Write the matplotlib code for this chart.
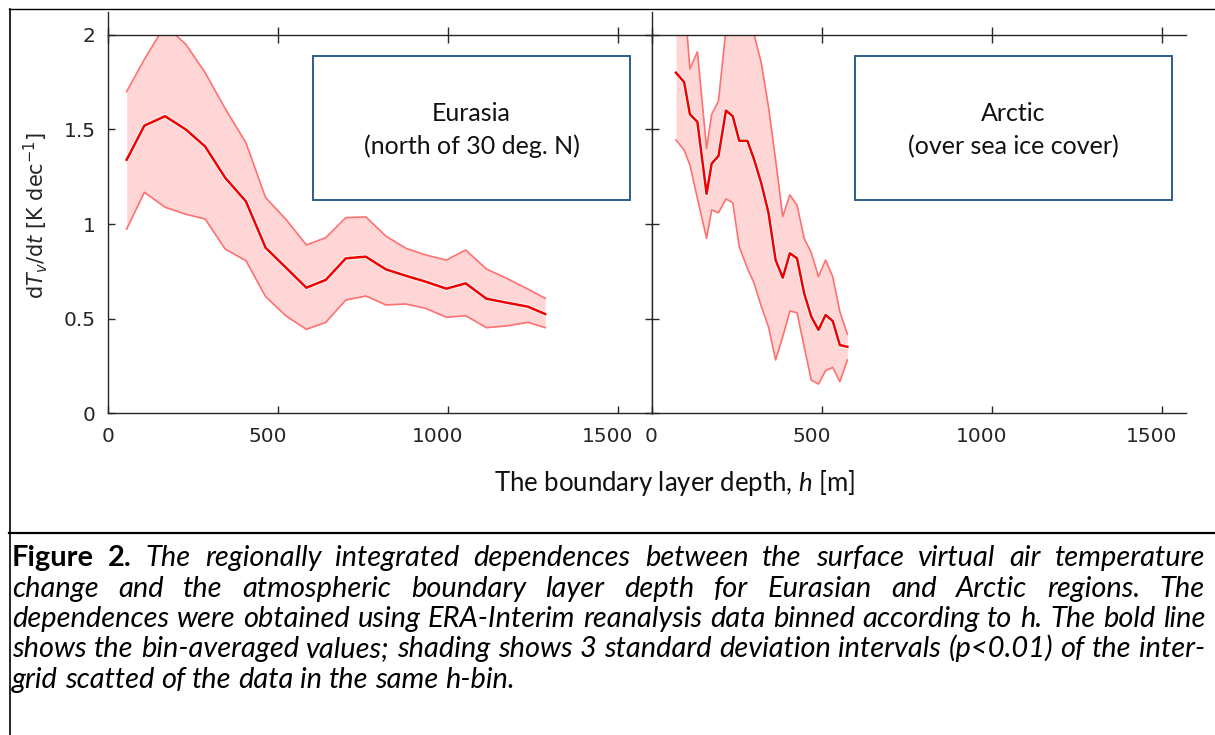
import matplotlib
matplotlib.use('Agg')
import matplotlib.pyplot as plt
import matplotlib.patheffects as pe
import matplotlib.transforms as mtransforms
from matplotlib.patches import Rectangle

# ---- data ----
# Eurasia (north of 30 deg. N)
eur_h = [55, 107, 168, 229, 286, 345, 406, 464, 524, 584, 641, 700, 759, 818,
         877, 935, 996, 1053, 1114, 1173, 1236, 1287]
eur_mean = [1.34, 1.52, 1.57, 1.50, 1.41, 1.245, 1.12, 0.875, 0.77, 0.664, 0.705,
            0.819, 0.828, 0.761, 0.727, 0.696, 0.659, 0.687, 0.606, 0.585, 0.564, 0.525]
eur_upper = [1.70, 1.87, 2.05, 1.95, 1.80, 1.61, 1.43, 1.14, 1.025, 0.89, 0.928,
             1.034, 1.038, 0.937, 0.872, 0.837, 0.81, 0.863, 0.763, 0.714, 0.657, 0.608]
eur_lower = [0.974, 1.168, 1.089, 1.052, 1.027, 0.868, 0.807, 0.617, 0.515, 0.444, 0.481,
             0.599, 0.62, 0.573, 0.578, 0.555, 0.508, 0.516, 0.453, 0.462, 0.481, 0.453]

# Arctic (over sea ice cover)
arc_h = [72, 96, 113, 135, 162, 177, 197, 219, 239, 258, 282, 302, 323, 344, 365,
         386, 407, 428, 449, 470, 491, 512, 533, 554, 576]
arc_mean = [1.80, 1.75, 1.58, 1.54, 1.16, 1.32, 1.36, 1.60, 1.57, 1.44, 1.44, 1.34,
            1.215, 1.06, 0.81, 0.717, 0.846, 0.819, 0.634, 0.511, 0.441, 0.52, 0.488,
            0.361, 0.352]
arc_upper = [2.3, 2.2, 1.82, 1.91, 1.40, 1.58, 1.65, 2.03, 2.3, 2.35, 2.2, 2.0, 1.85,
             1.62, 1.34, 1.04, 1.154, 1.10, 0.925, 0.849, 0.722, 0.81, 0.722, 0.537, 0.419]
arc_lower = [1.444, 1.391, 1.312, 1.136, 0.925, 1.075, 1.06, 1.133, 1.113, 0.881, 0.767,
             0.687, 0.564, 0.458, 0.282, 0.405, 0.541, 0.532, 0.352, 0.176, 0.155, 0.226,
             0.243, 0.168, 0.282]

xticks = [0, 500, 1000, 1500]
yticks = [0, 0.5, 1, 1.5, 2]
ytick_labels = ['0', '0.5', '1', '1.5', '2']

box_texts = [('Eurasia', '(north of 30 deg. N)'), ('Arctic', '(over sea ice cover)')]

caption_bold = ['Figure', '2.']
caption = [
    "The regionally integrated dependences between the surface virtual air temperature",
    "change and the atmospheric boundary layer depth for Eurasian and Arctic regions. The",
    "dependences were obtained using ERA-Interim reanalysis data binned according to h. The bold line",
    "shows the bin-averaged values; shading shows 3 standard deviation intervals (p<0.01) of the inter-",
    "grid scatted of the data in the same h-bin.",
]

# ---- style ----
plt.rcParams['font.family'] = 'DejaVu Sans'
plt.rcParams['mathtext.fontset'] = 'custom'
plt.rcParams['mathtext.rm'] = 'Lato'
plt.rcParams['mathtext.it'] = 'Lato:italic'

W, H = 1215, 735
AXC = '#262626'
fig = plt.figure(figsize=(W / 100, H / 100), dpi=100)

ax1 = fig.add_axes([108 / W, 1 - 413.4 / H, 543.5 / W, 378.6 / H])
ax2 = fig.add_axes([651.5 / W, 1 - 413.4 / H, 534.5 / W, 378.6 / H])


def draw_band(ax, h, lo, mean, up):
    ax.fill_between(h, lo, up, color='#ffd6d6', lw=0)
    ax.plot(h, up, color='#ff7070', lw=1.2)
    ax.plot(h, lo, color='#ff7070', lw=1.2)
    ax.plot(h, mean, color='#f00000', lw=1.8,
            path_effects=[pe.withStroke(linewidth=3.0, foreground='white')])


draw_band(ax1, eur_h, eur_lower, eur_mean, eur_upper)
draw_band(ax2, arc_h, arc_lower, arc_mean, arc_upper)

shift = mtransforms.ScaledTranslation(-0.1, 0, fig.dpi_scale_trans)

for ax, xmax in ((ax1, 1600), (ax2, 1572)):
    ax.set_xlim(0, xmax)
    ax.set_ylim(0, 2)
    ax.set_xticks(xticks)
    ax.set_xticklabels([str(t) for t in xticks])
    ax.set_yticks(yticks)
    for s in ax.spines.values():
        s.set_color(AXC)
        s.set_linewidth(1.0)
    ax.tick_params(axis='x', direction='in', top=True, length=5, width=1.0,
                   color=AXC, labelsize=14.5, labelcolor=AXC, pad=10)
    ax.tick_params(axis='y', direction='in', length=5, width=1.0, color=AXC,
                   labelsize=14.5, labelcolor=AXC, pad=9)
    # top ticks cross the line
    for t in ax.xaxis.get_major_ticks():
        t.tick2line.set_marker('|')
        t.tick2line.set_markersize(11)
    # multi-digit labels sit a little left of their ticks in the original
    for lab in ax.get_xticklabels():
        if lab.get_text() != '0':
            lab.set_transform(lab.get_transform() + shift)

ax1.set_yticklabels(ytick_labels)
ax1.tick_params(axis='y', right=True)
ax2.tick_params(axis='y', labelleft=False, right=False)
ax2.spines['right'].set_visible(False)

# ---- overlay in pixel coordinates ----
ov = fig.add_axes([0, 0, 1, 1])
ov.set_xlim(0, W)
ov.set_ylim(H, 0)
ov.axis('off')

# page frame
ov.plot([9.5, 9.5], [9, H], color='black', lw=1.2, clip_on=False)
ov.plot([9, W], [9, 9], color='black', lw=1.0, clip_on=False)
ov.plot([9, W], [533, 533], color='black', lw=1.6, clip_on=False)
# y-axis lines run a little above the top
ov.plot([108, 108], [12, 35], color=AXC, lw=1.0)
ov.plot([651.5, 651.5], [12, 35], color=AXC, lw=1.0)

# region boxes
for (x0, (t1, t2)) in zip((312.7, 854.5), box_texts):
    ov.add_patch(Rectangle((x0, 56), 317.5, 144, fill=False, ec='#2e5d8c', lw=1.4))
    cx = x0 + 317.5 / 2
    ov.text(cx, 121, t1, family='Lato', fontsize=18, ha='center', va='baseline', color='#111111')
    ov.text(cx, 154, t2, family='Lato', fontsize=18, ha='center', va='baseline', color='#111111')

# axis labels
ov.text(36, 215, r'd$T_v$/d$t$ [K dec$^{-1}$]', rotation=90, ha='center', va='center',
        fontsize=15, color=AXC, math_fontfamily='dejavusans')
ov.text(674, 491, r'The boundary layer depth, $h$ [m]', family='Lato', fontsize=18.5,
        ha='center', va='baseline', color='#111111')

# caption, justified between the page margins
renderer = fig.canvas.get_renderer()
left, right = 12, 1205
baselines = [566, 597, 627, 657, 688]
fs = 16.0


def make_words(i, line):
    words = [(w, 'normal', 'italic') for w in line.split()]
    if i == 0:
        words = [(w, 'bold', 'normal') for w in caption_bold] + words
    return words


def measure(words, size):
    arts = [ov.text(0, 0, w, family='Lato', fontsize=size, fontweight=fw, fontstyle=st,
                    va='baseline', ha='left', color='black') for w, fw, st in words]
    widths = [a.get_window_extent(renderer).width for a in arts]
    return arts, widths


def space_width(size):
    a = ov.text(0, 0, 'a a', family='Lato', fontsize=size, fontstyle='italic')
    b = ov.text(0, 0, 'aa', family='Lato', fontsize=size, fontstyle='italic')
    w = a.get_window_extent(renderer).width - b.get_window_extent(renderer).width
    a.remove()
    b.remove()
    return w


# size the font so the tightest line just fills the measure
sp = space_width(fs)
worst = 0
for i, line in enumerate(caption[:-1]):
    arts, widths = measure(make_words(i, line), fs)
    need = sum(widths) + sp * (len(widths) - 1)
    worst = max(worst, need / (right - left))
    for a in arts:
        a.remove()
fs = fs / worst * 0.995
sp = space_width(fs)

for i, line in enumerate(caption):
    words = make_words(i, line)
    arts, widths = measure(words, fs)
    if i < len(caption) - 1:
        gap = (right - left - sum(widths)) / (len(widths) - 1)
    else:
        gap = sp
    x = left
    for a, w in zip(arts, widths):
        a.set_position((x, baselines[i]))
        x += w + gap

fig.savefig('out.png', dpi=100)
